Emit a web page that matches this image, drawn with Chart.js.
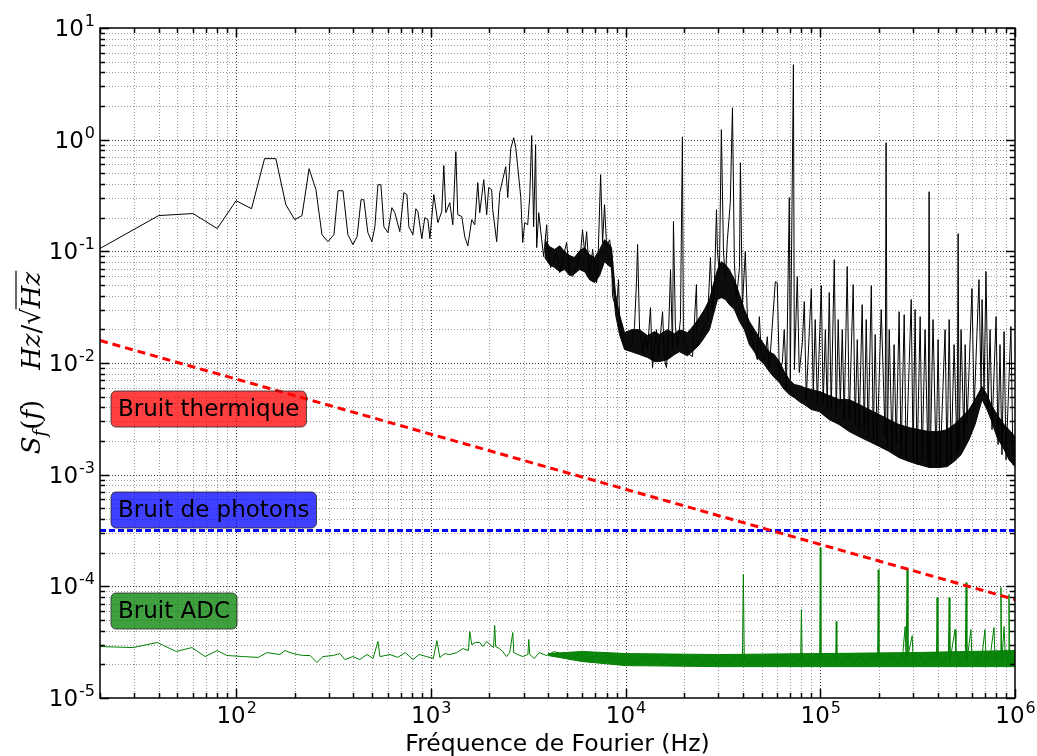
<!DOCTYPE html>
<html>
<head>
<meta charset="utf-8">
<script src="https://cdn.jsdelivr.net/npm/chart.js@4.4.0/dist/chart.umd.min.js"></script>
<style>
  html, body { margin: 0; padding: 0; background: #fff; }
  #wrap { width: 1037px; height: 756px; position: relative; }
</style>
</head>
<body>
<div id="wrap"><canvas id="psdChart"></canvas></div>
<script>
// Spectre mesuré (noir) : fréquence (Hz) / amplitude (Hz/sqrt(Hz))
const noiseFreq = [20, 40, 60, 80, 100, 120, 140, 160, 180, 200, 218, 237, 257, 276, 296, 318, 334, 354, 375, 398,
  418, 438, 453, 475, 498, 516, 535, 554, 574, 602, 631, 653, 693, 727, 754, 771, 809, 838, 858, 899,
  931, 966, 989, 1036, 1087, 1138, 1166, 1194, 1251, 1297, 1344, 1375, 1442, 1494, 1549, 1622, 1682, 1742, 1783, 1870,
  1936, 1982, 2054, 2079, 2179, 2258, 2339, 2425, 2483, 2572, 2666, 2730, 2794, 2897, 2965, 3035, 3143, 3221, 3296, 3373,
  3452, 3497, 3581, 3710, 3797, 3936, 3981, 4124, 4227, 4426, 4592, 4753, 4979, 5164, 5346, 5610, 5875, 6012, 6166, 6310,
  6531, 6776, 7096, 7178, 7447, 7621, 7798, 7998, 8279, 8472, 8570, 8995, 9204, 9311, 9661, 10120, 10740, 11120, 11380, 11530,
  11800, 12220, 12510, 12970, 13430, 13750, 14420, 14760, 15490, 15850, 16220, 16630, 17020, 17420, 17620, 18030, 18490, 19140, 19590, 19820,
  20560, 21280, 22080, 23120, 23390, 24550, 25410, 26360, 27290, 27930, 28580, 29310, 29650, 30340, 31050, 31840, 32580, 33340, 34510, 35400,
  36220, 37070, 38460, 38900, 39810, 41210, 42270, 44260, 45920, 47530, 48640, 49770, 51640, 53460, 54700, 58750, 60120, 61660, 63830, 65310,
  66990, 69340, 70150, 72780, 73620, 76210, 77980, 80910, 82790, 84720, 87900, 89950, 92040, 94190, 96600, 101200, 103500, 106200, 108600, 111200,
  113800, 118000, 120800, 123600, 126700, 129700, 132700, 137500, 140900, 147600, 151100, 154900, 158500, 164100, 168200, 172200, 176200, 182800, 187100, 191400,
  196000, 205600, 215300, 217800, 220800, 226000, 233900, 239300, 245500, 254100, 260000, 269800, 276100, 293100, 299900, 306900, 314100, 325800, 333400, 345300,
  358000, 362200, 366400, 379300, 393600, 402700, 412100, 437500, 447700, 459200, 469900, 486500, 504600, 510500, 516400, 528500, 547100, 554600, 567500, 601300,
  616600, 653100, 669900, 677500, 693500, 709500, 727800, 744700, 762100, 799800, 818500, 837500, 857100, 879000, 899500, 952900, 977200, 1000000];
const noiseVal = [0.106, 0.209, 0.218, 0.160, 0.284, 0.241, 0.676, 0.676, 0.262, 0.192, 0.209, 0.550, 0.357, 0.141, 0.122, 0.141, 0.349, 0.349, 0.141, 0.115,
  0.135, 0.290, 0.290, 0.147, 0.122, 0.166, 0.395, 0.395, 0.166, 0.147, 0.246, 0.222, 0.150, 0.335, 0.322, 0.166, 0.141, 0.241, 0.227, 0.130,
  0.200, 0.192, 0.130, 0.322, 0.181, 0.227, 0.585, 0.222, 0.273, 0.173, 0.781, 0.213, 0.205, 0.135, 0.112, 0.192, 0.173, 0.412, 0.222, 0.438,
  0.213, 0.372, 0.357, 0.236, 0.122, 0.335, 0.438, 0.573, 0.303, 0.830, 1.04, 0.848, 0.573, 0.303, 0.120, 0.181, 0.173, 0.309, 1.09, 0.166,
  0.902, 0.108, 0.222, 0.127, 0.0897, 0.173, 0.110, 0.0715, 0.0793, 0.0973, 0.0645, 0.0843, 0.120, 0.0645, 0.0594, 0.0730, 0.0973, 0.156, 0.0973, 0.150,
  0.0594, 0.104, 0.0525, 0.0594, 0.486, 0.120, 0.262, 0.110, 0.127, 0.0973, 0.0393, 0.0301, 0.0558, 0.0260, 0.0162, 0.0137, 0.0140, 0.0212, 0.0535, 0.115,
  0.0199, 0.0124, 0.0172, 0.0132, 0.0313, 0.0091, 0.0199, 0.0114, 0.0288, 0.0107, 0.0091, 0.0187, 0.0686, 0.0132, 0.185, 0.0212, 0.0140, 0.0245, 1.06, 0.0172,
  0.0137, 0.0119, 0.0114, 0.0504, 0.0140, 0.0187, 0.0212, 0.0245, 0.0879, 0.0283, 0.0483, 0.236, 0.0973, 0.0645, 1.23, 0.0973, 0.0594, 0.127, 0.273, 1.93,
  0.0793, 0.0370, 0.0715, 0.622, 0.0320, 0.0993, 0.0245, 0.0172, 0.0132, 0.0107, 0.0260, 0.0124, 0.0101, 0.0172, 0.00873, 0.0535, 0.0525, 0.00787, 0.0101, 0.0199,
  0.00578, 0.303, 0.00710, 4.69, 0.00873, 0.0594, 0.00820, 0.0152, 0.0355, 0.00470, 0.0199, 0.0464, 0.00521, 0.0245, 0.00425, 0.0493, 0.00425, 0.0199, 0.00383, 0.0427,
  0.00383, 0.0843, 0.00345, 0.0245, 0.00425, 0.0199, 0.00311, 0.0730, 0.00311, 0.0504, 0.00281, 0.0162, 0.00253, 0.0333, 0.00243, 0.0245, 0.00215, 0.0493, 0.00206, 0.0180,
  0.00186, 0.0301, 0.00219, 0.940, 0.00175, 0.0199, 0.00161, 0.0146, 0.00186, 0.0288, 0.00151, 0.0271, 0.00136, 0.0370, 0.00136, 0.0301, 0.00123, 0.0260, 0.00131, 0.0199,
  0.00121, 0.342, 0.00116, 0.0245, 0.00123, 0.0162, 0.00116, 0.0199, 0.00118, 0.0245, 0.00131, 0.0146, 0.00151, 0.144, 0.00168, 0.0199, 0.00206, 0.0146, 0.00281, 0.0464,
  0.00383, 0.0558, 0.00555, 0.0370, 0.00521, 0.0658, 0.00383, 0.0199, 0.00253, 0.0260, 0.00186, 0.0146, 0.00151, 0.0191, 0.00136, 0.0212, 0.00123, 0.00151];

// Bande de bruit dense du spectre (enveloppes haute / basse)
const bandFreq = [3846, 4074, 4325, 4592, 4864, 5164, 5470, 5808, 6166, 6531, 6934, 7362, 7798, 8185, 8472, 8889, 9311, 9886, 10740, 11800,
  12970, 14090, 14930, 16410, 17830, 18920, 20800, 22590, 23920, 25410, 26980, 28250, 29650, 31050, 32580, 34120, 36220, 38460, 40740, 43250,
  45920, 48640, 51640, 54700, 58070, 61660, 65310, 69340, 73620, 77980, 82790, 89950, 98830, 111200, 125000, 140900, 158500, 178300, 200900, 226000,
  254100, 285800, 322100, 362200, 407400, 447700, 486500, 528500, 580800, 623700, 677500, 717800, 753400, 809100, 879000, 931000, 1000000];
const bandHigh = [0.127, 0.110, 0.104, 0.112, 0.0993, 0.0916, 0.0879, 0.101, 0.108, 0.0934, 0.0879, 0.104, 0.127, 0.117, 0.108, 0.0410, 0.0271, 0.0187, 0.0199, 0.0199,
  0.0176, 0.0191, 0.0180, 0.0199, 0.0183, 0.0199, 0.0187, 0.0221, 0.0255, 0.0301, 0.0370, 0.0504, 0.0686, 0.0809, 0.0760, 0.0686, 0.0558, 0.0410, 0.0301, 0.0235,
  0.0199, 0.0169, 0.0146, 0.0126, 0.0119, 0.0103, 0.00838, 0.00710, 0.00641, 0.00628, 0.00603, 0.00578, 0.00555, 0.00511, 0.00470, 0.00470, 0.00425, 0.00383, 0.00345, 0.00311,
  0.00281, 0.00264, 0.00253, 0.00243, 0.00243, 0.00253, 0.00281, 0.00324, 0.00383, 0.00470, 0.00615, 0.00521, 0.00425, 0.00345, 0.00281, 0.00253, 0.00219];
const bandLow = [0.0879, 0.0760, 0.0715, 0.0658, 0.0686, 0.0606, 0.0631, 0.0686, 0.0658, 0.0558, 0.0525, 0.0606, 0.0809, 0.0745, 0.0715, 0.0271, 0.0180, 0.0132, 0.0126, 0.0119,
  0.0112, 0.0103, 0.0103, 0.0107, 0.0119, 0.0126, 0.0116, 0.0132, 0.0146, 0.0169, 0.0199, 0.0271, 0.0370, 0.0385, 0.0370, 0.0333, 0.0301, 0.0235, 0.0199, 0.0146,
  0.0126, 0.0107, 0.00968, 0.00838, 0.00740, 0.00668, 0.00578, 0.00521, 0.00490, 0.00451, 0.00425, 0.00383, 0.00367, 0.00311, 0.00281, 0.00243, 0.00219, 0.00198, 0.00179, 0.00161,
  0.00142, 0.00131, 0.00123, 0.00116, 0.00116, 0.00118, 0.00131, 0.00151, 0.00206, 0.00281, 0.00470, 0.00383, 0.00311, 0.00215, 0.00168, 0.00136, 0.00118];

// Bruit ADC (vert)
const adcFreq = [20, 29.6, 39.4, 49.2, 59.4, 69.3, 79.9, 89.9, 109, 130, 144, 168, 178, 196, 221, 240, 260, 279, 314, 341,
  362, 398, 432, 470, 505, 535, 548, 617, 677, 740, 809, 870, 953, 1030, 1074, 1112, 1180, 1251, 1358, 1459,
  1560, 1585, 1622, 1700, 1783, 1850, 1936, 2009, 2100, 2128, 2153, 2250, 2339, 2450, 2541, 2636, 2666, 2800, 2965, 3150,
  3184, 3221, 3400, 3600, 3936, 4300, 4753, 5200, 5808, 6400, 7096, 7800, 8570, 9500, 10490, 11500, 12500, 13500, 14500, 15500,
  17000, 18500, 20000, 21500, 23000, 25000, 27000, 29000, 31500, 34000, 37000, 39800, 40270, 40700, 43000, 46000, 50000, 54000, 58000, 63000,
  68000, 73000, 79300, 80000, 80700, 85000, 92000, 99300, 100000, 100700, 108000, 116000, 120000, 120800, 121600, 130000, 140000, 150000, 160000, 172000,
  185000, 197000, 198500, 200000, 215000, 232000, 250000, 265000, 272900, 276000, 279300, 282000, 296500, 300000, 320000, 345000, 370000, 395000, 398000, 402000,
  430000, 455000, 459000, 463000, 492000, 497000, 525000, 556000, 561000, 566000, 594000, 600000, 640000, 680000, 701000, 710000, 750000, 780000, 790000, 840000,
  847000, 855000, 879000, 890000, 925000, 931000, 940000, 970000, 1000000];
const adcVal = [2.89e-5, 2.83e-5, 3.14e-5, 2.61e-5, 2.83e-5, 2.35e-5, 2.66e-5, 2.40e-5, 2.35e-5, 2.31e-5, 2.55e-5, 2.45e-5, 2.66e-5, 2.50e-5, 2.40e-5, 2.40e-5, 2.08e-5, 2.35e-5, 2.40e-5, 2.50e-5,
  2.21e-5, 2.35e-5, 2.21e-5, 2.45e-5, 2.26e-5, 3.21e-5, 2.35e-5, 2.45e-5, 2.31e-5, 2.55e-5, 2.21e-5, 2.45e-5, 2.35e-5, 2.26e-5, 3.27e-5, 2.31e-5, 2.50e-5, 2.45e-5, 2.55e-5, 2.77e-5,
  2.66e-5, 3.94e-5, 3.01e-5, 3.14e-5, 3.14e-5, 2.89e-5, 3.21e-5, 3.01e-5, 2.83e-5, 4.46e-5, 2.89e-5, 2.77e-5, 2.61e-5, 2.35e-5, 2.55e-5, 3.86e-5, 2.55e-5, 2.45e-5, 2.35e-5, 2.45e-5,
  3.34e-5, 2.45e-5, 2.26e-5, 2.55e-5, 2.40e-5, 2.61e-5, 2.45e-5, 2.21e-5, 2.50e-5, 2.21e-5, 2.40e-5, 2.12e-5, 2.35e-5, 2.08e-5, 2.35e-5, 2.00e-5, 2.40e-5, 2.08e-5, 2.35e-5, 2.00e-5,
  2.31e-5, 2.04e-5, 2.35e-5, 2.00e-5, 2.31e-5, 2.04e-5, 2.35e-5, 2.00e-5, 2.31e-5, 2.04e-5, 2.35e-5, 2.08e-5, 1.28e-4, 2.31e-5, 2.04e-5, 2.35e-5, 2.00e-5, 2.31e-5, 2.08e-5, 2.40e-5,
  2.04e-5, 2.35e-5, 2.12e-5, 6.20e-5, 2.35e-5, 2.04e-5, 2.35e-5, 2.12e-5, 2.22e-4, 2.40e-5, 2.08e-5, 2.40e-5, 2.12e-5, 4.84e-5, 2.35e-5, 2.04e-5, 2.40e-5, 2.08e-5, 2.40e-5, 2.04e-5,
  2.40e-5, 2.12e-5, 1.41e-4, 2.40e-5, 2.08e-5, 2.45e-5, 2.04e-5, 2.45e-5, 4.37e-5, 2.12e-5, 1.44e-4, 2.40e-5, 3.62e-5, 2.08e-5, 2.45e-5, 2.04e-5, 2.45e-5, 2.12e-5, 7.94e-5, 2.40e-5,
  2.08e-5, 2.45e-5, 7.94e-5, 2.12e-5, 4.10e-5, 2.45e-5, 2.08e-5, 2.50e-5, 1.08e-4, 2.12e-5, 4.10e-5, 2.50e-5, 2.08e-5, 2.55e-5, 4.10e-5, 2.12e-5, 2.55e-5, 4.28e-5, 2.12e-5, 2.55e-5,
  9.75e-5, 2.12e-5, 4.37e-5, 2.55e-5, 2.12e-5, 8.45e-5, 2.50e-5, 2.08e-5, 2.55e-5];

// Bande dense du bruit ADC
const adcBandFreq = [4000, 6000, 10000, 30000, 100000, 300000, 1000000];
const adcBandHigh = [2.50e-5, 2.61e-5, 2.50e-5, 2.45e-5, 2.50e-5, 2.55e-5, 2.66e-5];
const adcBandLow = [2.40e-5, 2.12e-5, 1.95e-5, 1.91e-5, 1.91e-5, 1.91e-5, 1.91e-5];

// Modèles de bruit
const thermFreq = [20, 1000000];
const thermVal = [0.0159, 7.62e-5];
const photonFreq = [20, 1000000];
const photonVal = [3.16e-4, 3.16e-4];

// Axes
const xMin = 20, xMax = 1e6, yMin = 1e-5, yMax = 10;
const xLabelExp = [2, 3, 4, 5, 6];
const yLabelExp = [-5, -4, -3, -2, -1, 0, 1];
const xGridExp = [1, 2, 3, 4, 5];
const yGridExp = [-5, -4, -3, -2, -1, 0];
const gridMult = [1, 2, 3, 4, 5, 6, 7, 8, 9];

const boxes = [
  { text: 'Bruit thermique', fill: 'rgba(255,0,0,0.75)', top: 363 },
  { text: 'Bruit de photons', fill: 'rgba(0,0,255,0.75)', top: 464 },
  { text: 'Bruit ADC', fill: 'rgba(0,128,0,0.75)', top: 565 }
];

function pts(fs, vs) { return fs.map((f, i) => ({ x: f, y: vs[i] })); }

function roundRect(ctx, x, y, w, h, r) {
  ctx.beginPath();
  ctx.moveTo(x + r, y);
  ctx.arcTo(x + w, y, x + w, y + h, r);
  ctx.arcTo(x + w, y + h, x, y + h, r);
  ctx.arcTo(x, y + h, x, y, r);
  ctx.arcTo(x, y, x + w, y, r);
  ctx.closePath();
}

// grille pointillée (majeure plus foncée)
const gridPlugin = {
  id: 'gridPlugin',
  beforeDatasetsDraw(chart) {
    const { ctx, chartArea: a, scales: { x, y } } = chart;
    ctx.save();
    ctx.lineWidth = 1;
    ctx.setLineDash([1, 2]);
    xGridExp.forEach(e => gridMult.forEach(m => {
      const v = m * Math.pow(10, e);
      if (v <= xMin || v >= xMax) return;
      const px = Math.round(x.getPixelForValue(v)) + 0.5;
      ctx.strokeStyle = m === 1 ? 'rgba(0,0,0,0.8)' : 'rgba(0,0,0,0.4)';
      ctx.beginPath(); ctx.moveTo(px, a.top); ctx.lineTo(px, a.bottom); ctx.stroke();
    }));
    yGridExp.forEach(e => gridMult.forEach(m => {
      const v = m * Math.pow(10, e);
      if (v <= yMin || v >= yMax) return;
      const py = Math.round(y.getPixelForValue(v)) + 0.5;
      ctx.strokeStyle = m === 1 ? 'rgba(0,0,0,0.8)' : 'rgba(0,0,0,0.4)';
      ctx.beginPath(); ctx.moveTo(a.left, py); ctx.lineTo(a.right, py); ctx.stroke();
    }));
    ctx.restore();
  },
  afterDatasetsDraw(chart) {
    const { ctx, chartArea: a, scales: { x, y } } = chart;
    ctx.save();
    // boîtes de texte
    ctx.font = '23px "DejaVu Sans"';
    ctx.textBaseline = 'middle';
    boxes.forEach(b => {
      const w = ctx.measureText(b.text).width + 14;
      roundRect(ctx, a.left + 11, a.top + b.top, w, 36, 5);
      ctx.fillStyle = b.fill;
      ctx.fill();
      ctx.strokeStyle = 'rgba(40,40,40,0.8)';
      ctx.lineWidth = 1;
      ctx.stroke();
      ctx.fillStyle = '#000';
      ctx.fillText(b.text, a.left + 18, a.top + b.top + 19);
    });

    // cadre
    ctx.strokeStyle = '#000';
    ctx.lineWidth = 1.5;
    ctx.strokeRect(a.left, a.top, a.right - a.left, a.bottom - a.top);

    // graduations vers l'intérieur, sur les quatre côtés
    ctx.lineWidth = 1.5;
    const tickX = (v, len) => {
      const px = Math.round(x.getPixelForValue(v)) + 0.5;
      ctx.beginPath();
      ctx.moveTo(px, a.bottom); ctx.lineTo(px, a.bottom - len);
      ctx.moveTo(px, a.top); ctx.lineTo(px, a.top + len);
      ctx.stroke();
    };
    const tickY = (v, len) => {
      const py = Math.round(y.getPixelForValue(v)) + 0.5;
      ctx.beginPath();
      ctx.moveTo(a.left, py); ctx.lineTo(a.left + len, py);
      ctx.moveTo(a.right, py); ctx.lineTo(a.right - len, py);
      ctx.stroke();
    };
    xGridExp.forEach(e => gridMult.forEach(m => {
      const v = m * Math.pow(10, e);
      if (v < xMin || v > xMax) return;
      tickX(v, m === 1 ? 9 : 5);
    }));
    tickX(xMax, 9);
    yGridExp.forEach(e => gridMult.forEach(m => {
      const v = m * Math.pow(10, e);
      tickY(v, m === 1 ? 9 : 5);
    }));
    tickY(yMax, 9);

    // étiquettes 10^n
    ctx.fillStyle = '#000';
    ctx.textBaseline = 'alphabetic';
    const big = '23px "DejaVu Sans"', small = '16px "DejaVu Sans"';
    xLabelExp.forEach(e => {
      const px = x.getPixelForValue(Math.pow(10, e));
      ctx.font = big; const w1 = ctx.measureText('10').width;
      ctx.font = small; const w2 = ctx.measureText(String(e)).width;
      const left = px - (w1 + w2) / 2;
      ctx.font = big; ctx.textAlign = 'left';
      ctx.fillText('10', left, a.bottom + 25);
      ctx.font = small;
      ctx.fillText(String(e), left + w1 + 1, a.bottom + 15);
    });
    yLabelExp.forEach(e => {
      const py = y.getPixelForValue(Math.pow(10, e));
      const ex = String(e);
      ctx.font = small; const w2 = ctx.measureText(ex).width;
      ctx.textAlign = 'right';
      ctx.fillText(ex, a.left - 5, py - 2);
      ctx.font = big;
      ctx.fillText('10', a.left - 6 - w2, py + 8);
    });

    // titre de l'axe x
    ctx.font = '23.5px "DejaVu Sans"';
    ctx.textAlign = 'center';
    ctx.fillText('Fréquence de Fourier (Hz)', (a.left + a.right) / 2, 751);

    // titre de l'axe y (notation mathématique)
    const it = 'italic 26px "DejaVu Serif"', up = '26px "DejaVu Serif"', sub = 'italic 18px "DejaVu Serif"';
    const parts = [
      { t: 'S', f: it, dy: 0 }, { t: 'f', f: sub, dy: 6 }, { t: '(', f: up, dy: 0 }, { t: 'f', f: it, dy: 0 },
      { t: ')', f: up, dy: 0 }, { t: '', f: up, dy: 0, gap: 30 }, { t: 'Hz', f: it, dy: 0 }, { t: '/', f: up, dy: 0 },
      { t: '\u221A', f: up, dy: 0 }, { t: 'Hz', f: it, dy: 0, bar: true }
    ];
    let total = 0;
    parts.forEach(p => { ctx.font = p.f; p.w = p.gap || ctx.measureText(p.t).width; total += p.w; });
    ctx.translate(40, (a.top + a.bottom) / 2);
    ctx.rotate(-Math.PI / 2);
    ctx.textAlign = 'left';
    let cx = -total / 2;
    parts.forEach(p => {
      ctx.font = p.f;
      ctx.fillText(p.t, cx, p.dy);
      if (p.bar) {
        ctx.lineWidth = 1.2;
        ctx.beginPath(); ctx.moveTo(cx - 1, -24); ctx.lineTo(cx + p.w + 1, -24); ctx.stroke();
      }
      cx += p.w;
    });
    ctx.restore();
  }
};

const ctx = document.getElementById('psdChart').getContext('2d');
const chart = new Chart(ctx, {
  type: 'line',
  data: {
    datasets: [
      { label: 'Bruit thermique', data: pts(thermFreq, thermVal), borderColor: '#ff0000', borderWidth: 3, borderDash: [8, 5], order: 0 },
      { label: 'Bruit de photons', data: pts(photonFreq, photonVal), borderColor: '#0000ff', borderWidth: 3, borderDash: [6, 3], order: 0 },
      { label: 'Signal', data: pts(noiseFreq, noiseVal), borderColor: '#000000', borderWidth: 1, order: 1 },
      { label: 'Bande haute', data: pts(bandFreq, bandHigh), borderColor: 'rgba(0,0,0,0.95)', borderWidth: 1, fill: '+1', backgroundColor: 'rgba(0,0,0,0.95)', order: 2 },
      { label: 'Bande basse', data: pts(bandFreq, bandLow), borderColor: 'rgba(0,0,0,0.95)', borderWidth: 1, order: 2 },
      { label: 'Bruit ADC', data: pts(adcFreq, adcVal), borderColor: '#008000', borderWidth: 1, order: 1 },
      { label: 'Bande ADC haute', data: pts(adcBandFreq, adcBandHigh), borderColor: '#008000', borderWidth: 1, fill: '+1', backgroundColor: 'rgba(0,128,0,0.95)', order: 2 },
      { label: 'Bande ADC basse', data: pts(adcBandFreq, adcBandLow), borderColor: '#008000', borderWidth: 1, order: 2 }
    ]
  },
  options: {
    responsive: true,
    maintainAspectRatio: false,
    animation: false,
    events: [],
    layout: { padding: { left: 92, right: 22, top: 28, bottom: 50 } },
    elements: { point: { radius: 0 }, line: { tension: 0, fill: false } },
    plugins: { legend: { display: false }, tooltip: { enabled: false } },
    scales: {
      x: { type: 'logarithmic', min: xMin, max: xMax, grid: { display: false }, border: { display: false }, ticks: { display: false } },
      y: { type: 'logarithmic', min: yMin, max: yMax, grid: { display: false }, border: { display: false }, ticks: { display: false } }
    }
  },
  plugins: [gridPlugin]
});
</script>
</body>
</html>
